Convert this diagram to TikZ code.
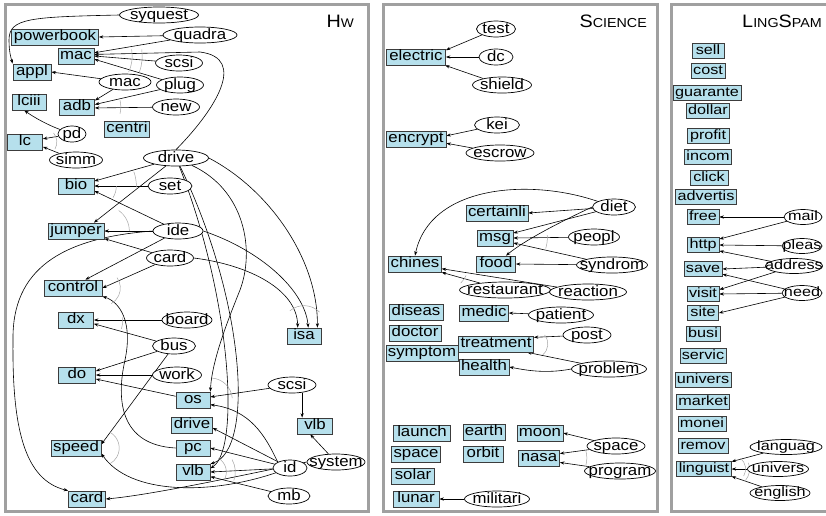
\documentclass[tikz,border=0pt]{standalone}
\usepackage{fontspec}
\setmainfont{Liberation Sans}[FakeStretch=1.12]
\newfontfamily\lsf{Liberation Sans}[FakeStretch=1.2]
\newfontfamily\ttlf{Liberation Sans}[FakeStretch=1.1]
\usetikzlibrary{shapes.geometric,arrows.meta}
\definecolor{boxblue}{RGB}{182,224,236}
\definecolor{boxline}{RGB}{60,60,60}
\definecolor{panel}{RGB}{160,160,160}
\definecolor{andgray}{RGB}{165,165,165}
\pgfdeclarelayer{bg}\pgfdeclarelayer{edges}\pgfsetlayers{bg,edges,main}
\newcommand\et[1]{\makebox[0pt]{\raisebox{-0.27em}[0pt][0pt]{#1}}}
\newcommand\andarc[4]{\draw[andarc] (#1) ++(#2:#4) arc[start angle=#2, end angle=#3, radius=#4];}
\begin{document}
\begin{tikzpicture}[x=1pt,y=-1pt,
  box/.style={draw=boxline, fill=boxblue, line width=0.7pt, inner xsep=2pt, inner ysep=0pt,
    minimum height=16pt, text height=11pt, text depth=3.4pt, font=\fontsize{15}{16}\selectfont},
  lbox/.style={box, minimum height=14.5pt, text height=10pt, text depth=3pt, font=\lsf\fontsize{13.5}{14}\selectfont},
  ell/.style={draw, ellipse, fill=white, line width=0.7pt, inner sep=0pt, minimum height=16pt,
    font=\fontsize{15}{16}\selectfont},
  lell/.style={ell, minimum height=15pt, font=\lsf\fontsize{13.5}{14}\selectfont},
  w/.style={minimum width=#1pt},
  e/.style={-{Stealth[length=4.5pt,width=3.2pt]}, line width=0.6pt},
  andarc/.style={andgray, line width=0.5pt},
  pan/.style={draw=panel, line width=3pt}]
\useasboundingbox (0,0) rectangle (826,515);
\begin{pgfonlayer}{bg}
\draw[pan] (5,4) rectangle (368,511);
\draw[pan] (383,4) rectangle (657,511);
\draw[pan] (671,4) rectangle (850,511);
\end{pgfonlayer}
% titles
\node[anchor=base east, inner sep=0pt] (thw) at (354,27) {\ttlf\fontsize{18}{18}\selectfont H\fontsize{12.5}{13}\selectfont W};
\node[anchor=base east, inner sep=0pt] (tsci) at (647,27) {\ttlf\fontsize{18}{18}\selectfont S\fontsize{13}{13}\selectfont CIENCE};
\node[anchor=base east, inner sep=0pt] (tls) at (822,27) {\ttlf\fontsize{18}{18}\selectfont L\fontsize{13}{13}\selectfont ING\fontsize{18}{18}\selectfont S\fontsize{13}{13}\selectfont PAM};
% ---------------- Hw boxes
\node[box,w=87] (hpb) at (55,37) {powerbook};
\node[box,w=35] (hmac) at (76,56) {mac};
\node[box,w=38] (happl) at (32,72) {appl};
\node[box,w=34] (hlciii) at (29,102) {lciii};
\node[box,w=35] (hadb) at (77,107) {adb};
\node[box,w=44] (hcentri) at (127,129) {centri};
\node[box,w=35] (hlc) at (25,142) {lc};
\node[box,w=36] (hbio) at (76,186) {bio};
\node[box,w=56] (hjump) at (76,231) {jumper};
\node[box,w=58] (hctrl) at (73,288) {control};
\node[box,w=35] (hdx) at (76,320) {dx};
\node[box,w=37] (hdo) at (77,375) {do};
\node[box,w=34] (hos) at (193,400) {os};
\node[box,w=40] (hdrvb) at (192,425) {drive};
\node[box,w=48] (hspeed) at (76,448) {speed};
\node[box,w=34] (hpc) at (193,448) {pc};
\node[box,w=34] (hvlb) at (193,472) {vlb};
\node[box,w=37] (hcardb) at (87,499) {card};
\node[box,w=34] (hisa) at (304,336) {isa};
\node[box,w=35] (hvlb2) at (315,426) {vlb};
% Hw ellipses
\node[ell,w=79] (hsyq) at (159,15) {\et{syquest}};
\node[ell,w=74] (hquad) at (200,35) {\et{quadra}};
\node[ell,w=47] (hscsi) at (179,63) {\et{scsi}};
\node[ell,w=52] (hmace) at (125,82) {\et{mac}};
\node[ell,w=47] (hplug) at (180,85) {\et{plug}};
\node[ell,w=47] (hnew) at (176,107) {\et{new}};
\node[ell,w=28] (hpd) at (72,134) {\et{pd}};
\node[ell,w=53] (hsimm) at (76,160) {\et{simm}};
\node[ell,w=65] (hdrv) at (176,158) {\et{drive}};
\node[ell,w=44] (hset) at (170,186) {\et{set}};
\node[ell,w=50] (hide) at (178,231) {\et{ide}};
\node[ell,w=47] (hcarde) at (170,258) {\et{card}};
\node[ell,w=50] (hboard) at (187,320) {\et{board}};
\node[ell,w=43] (hbus) at (174,346) {\et{bus}};
\node[ell,w=49] (hwork) at (177,375) {\et{work}};
\node[ell,w=48] (hscsi2) at (292,385) {\et{scsi}};
\node[ell,w=34] (hid) at (290,468) {\et{id}};
\node[ell,w=58] (hsys) at (336,462) {\et{system}};
\node[ell,w=42] (hmb) at (289,496) {\et{mb}};
% ---------------- Science boxes
\node[box,w=59] (selec) at (416,57) {electric};
\node[box,w=60] (senc) at (416,139) {encrypt};
\node[box,w=60] (scert) at (497,213) {certainli};
\node[box,w=36] (smsg) at (495,238) {msg};
\node[box,w=52] (schines) at (415,264) {chines};
\node[box,w=39] (sfood) at (496,264) {food};
\node[box,w=54] (sdiseas) at (416,312) {diseas};
\node[box,w=47] (smedic) at (484,313) {medic};
\node[box,w=52] (sdoctor) at (415,333) {doctor};
\node[box,w=74] (streat) at (496,344) {treatment};
\node[box,w=70] (ssympt) at (422,353) {symptom};
\node[box,w=49] (shealth) at (484,367) {health};
\node[box,w=57] (slaunch) at (422,433) {launch};
\node[box,w=42] (searth) at (484,432) {earth};
\node[box,w=46] (smoon) at (540,433) {moon};
\node[box,w=46] (sspaceb) at (416,454) {space};
\node[box,w=40] (sorbit) at (483,454) {orbit};
\node[box,w=41] (snasa) at (539,458) {nasa};
\node[box,w=43] (ssolar) at (413,476) {solar};
\node[box,w=46] (slunar) at (416,499) {lunar};
% Science ellipses
\node[ell,w=39] (stest) at (496,29) {\et{test}};
\node[ell,w=34] (sdc) at (496,57) {\et{dc}};
\node[ell,w=59] (sshield) at (502,85) {\et{shield}};
\node[ell,w=45] (skei) at (497,125) {\et{kei}};
\node[ell,w=68] (sescrow) at (500,153) {\et{escrow}};
\node[ell,w=43] (sdiet) at (614,207) {\et{diet}};
\node[ell,w=51] (speopl) at (594,237) {\et{peopl}};
\node[ell,w=71] (ssynd) at (612,265) {\et{syndrom}};
\node[ell,w=91] (srest) at (505,290) {\et{restaurant}};
\node[ell,w=77] (sreact) at (588,292) {\et{reaction}};
\node[ell,w=65] (spatient) at (561,315) {\et{patient}};
\node[ell,w=48] (spost) at (587,335) {\et{post}};
\node[ell,w=75] (sprob) at (609,369) {\et{problem}};
\node[ell,w=58] (sspace) at (616,446) {\et{space}};
\node[ell,w=71] (sprog) at (620,471) {\et{program}};
\node[ell,w=65] (smil) at (497,499) {\et{militari}};
% ---------------- LingSpam boxes
\node[lbox,w=32] (lsell) at (708,51) {sell};
\node[lbox,w=34] (lcost) at (708,71) {cost};
\node[lbox,w=61] (lguar) at (707,93) {guarante};
\node[lbox,w=42] (ldollar) at (708,111) {dollar};
\node[lbox,w=42] (lprofit) at (708,136) {profit};
\node[lbox,w=42] (lincom) at (708,157) {incom};
\node[lbox,w=38] (lclick) at (709,178) {click};
\node[lbox,w=58] (ladv) at (706,197) {advertis};
\node[lbox,w=31] (lfree) at (703,217) {free};
\node[lbox,w=32] (lhttp) at (703,245) {http};
\node[lbox,w=32] (lsave) at (703,269) {save};
\node[lbox,w=31] (lvisit) at (703,294) {visit};
\node[lbox,w=31] (lsite) at (703,313) {site};
\node[lbox,w=32] (lbusi) at (703,334) {busi};
\node[lbox,w=42] (lservic) at (703,356) {servic};
\node[lbox,w=52] (lunivb) at (703,380) {univers};
\node[lbox,w=51] (lmarket) at (703,402) {market};
\node[lbox,w=45] (lmonei) at (702,424) {monei};
\node[lbox,w=50] (lremov) at (703,446) {remov};
\node[lbox,w=52] (lling) at (704,469) {linguist};
% LingSpam ellipses
\node[lell,w=38] (lmail) at (803,217) {\et{mail}};
\node[lell,w=40] (lpleas) at (802,246) {\et{pleas}};
\node[lell,w=57] (laddr) at (794,266) {\et{address}};
\node[lell,w=40] (lneed) at (802,293) {\et{need}};
\node[lell,w=72] (llang) at (786,447) {\et{languag}};
\node[lell,w=61] (luniv) at (778,469) {\et{univers}};
\node[lell,w=60] (leng) at (780,493) {\et{english}};
% ---------------- edges
\begin{pgfonlayer}{edges}
% Hw
\draw[e] (hsyq.west) .. controls (30,17) and (9,18) .. (9,40) .. controls (9,52) and (11,58) .. (happl.north west);
\draw[e] (hquad) -- (hpb.east);
\draw[e] (hquad) -- (hmac.10);
\draw[e] (hscsi) -- (hmac.east);
\draw[e] (hplug) -- (hmac.-10);
\draw[e] (hdrv.north) .. controls (215,110) and (248,58) .. (200,52) -- (hmac.5);
\draw[e] (hmace) -- (happl.east);
\draw[e] (hmace) -- (hadb.20);
\draw[e] (hplug) -- (hadb.8);
\draw[e] (hnew) -- (hadb.-3);
\draw[e] (hpd) .. controls (48,125) and (35,118) .. (hlciii.-120);
\draw[e] (hpd) -- (hlc.10);
\draw[e] (hsimm) -- (hlc.-15);
\draw[e] (hdrv) -- (hbio.15);
\draw[e] (hset) -- (hbio.east);
\draw[e] (hide) -- (hbio.-15);
\draw[e] (hdrv) -- (hjump.25);
\draw[e] (hide) -- (hjump.east);
\draw[e] (hcarde) -- (hjump.-15);
\draw[e] (hide) -- (hctrl.34);
\draw[e] (hcarde) -- (hctrl.east);
\draw[e] (hpc.west) .. controls (120,445) and (116,400) .. (125,360) .. controls (133,322) and (120,302) .. (hctrl.south east);
\draw[e] (hide.west) .. controls (60,238) and (12,270) .. (13,340) .. controls (12,430) and (25,480) .. (hcardb.north west);
\draw[e] (hboard) -- (hdx.east);
\draw[e] (hbus) -- (hdx.-12);
\draw[e] (hbus) -- (hdo.12);
\draw[e] (hwork) -- (hdo.east);
\draw[e] (hos) -- (hdo.-12);
\draw[e] (hbus) -- (hspeed.8);
\draw[e] (hdrv.east) .. controls (270,190) and (318,260) .. (hisa.32);
\draw[e] (hide.east) .. controls (260,250) and (305,290) .. (hisa.63);
\draw[e] (hcarde.east) .. controls (250,265) and (297,290) .. (hisa.127);
\draw[e] (hdrv) .. controls (245,190) and (255,250) .. (240,290) .. controls (228,320) and (212,360) .. (hos.north east);
\draw[e] (hdrv) .. controls (245,300) and (255,450) .. (hvlb.25);
\draw[e] (hdrv) .. controls (232,300) and (240,450) .. (hvlb.12);
\draw[e] (hid.north west) .. controls (265,435) and (250,410) .. (hos.-15);
\draw[e] (hscsi2) -- (hos.10);
\draw[e] (hscsi2.south -| hvlb2.147) -- (hvlb2.147);
\draw[e] (hsys) -- (hvlb2.-120);
\draw[e] (hid) -- (hdrvb.-8);
\draw[e] (hid) -- (hpc.east);
\draw[e] (hid) -- (hvlb.east);
\draw[e] (hmb) -- (hvlb.-15);
\draw[e] (hsys.west) .. controls (230,478) and (150,495) .. (hcardb.east);
\draw[e] (hid) .. controls (210,495) and (130,495) .. (hspeed.-12);
% Science
\draw[e] (stest) -- (selec.13);
\draw[e] (sdc) -- (selec.east);
\draw[e] (sshield) -- (selec.-16);
\draw[e] (skei) -- (senc.6);
\draw[e] (sescrow) -- (senc.-8);
\draw[e] (sdiet) -- (scert.east);
\draw[e] (sdiet) -- (smsg.15);
\draw[e] (sdiet.west) .. controls (560,222) and (525,240) .. (sfood.40);
\draw[e] (sdiet) .. controls (530,178) and (430,185) .. (schines.north);
\draw[e] (speopl) -- (smsg.east);
\draw[e] (ssynd) -- (smsg.-15);
\draw[e] (ssynd) -- (sfood.east);
\draw[e] (srest) -- (schines.south east);
\draw[e] (sreact) -- (schines.-10);
\draw[e] (spatient) -- (smedic.east);
\draw[e] (spost) -- (streat.10);
\draw[e] (sprob) -- (streat.-15);
\draw[e] (sprob.west) .. controls (545,374) and (525,370) .. (shealth.east);
\draw[e] (sspace) -- (smoon.east);
\draw[e] (sspace) -- (snasa.12);
\draw[e] (sprog) -- (snasa.-12);
\draw[e] (smil) -- (slunar.east);
% LingSpam
\draw[e] (lmail) -- (lfree.east);
\draw[e] (lmail) -- (lhttp.20);
\draw[e] (lpleas) -- (lhttp.east);
\draw[e] (laddr) -- (lhttp.-20);
\draw[e] (laddr) -- (lsave.east);
\draw[e] (laddr) -- (lvisit.15);
\draw[e] (lneed) -- (lsave.-15);
\draw[e] (lneed) -- (lvisit.east);
\draw[e] (lneed) -- (lsite.east);
\draw[e] (llang) -- (lling.15);
\draw[e] (luniv) -- (lling.east);
\draw[e] (leng) -- (lling.-15);
% gray conjunction arcs
\andarc{hmac.east}{-10}{25}{38}
\andarc{hmac.east}{-8}{20}{48}
\andarc{hadb.east}{-15}{15}{26}
\andarc{hlc.east}{-40}{30}{14}
\andarc{hbio.east}{-20}{2}{42}
\andarc{hbio.east}{0}{32}{22}
\andarc{hjump.east}{-55}{0}{25}
\andarc{hctrl.east}{-35}{60}{18}
\andarc{hdx.east}{-5}{18}{29}
\andarc{hspeed.east}{-60}{60}{18}
\andarc{hvlb.east}{-60}{30}{16}
\andarc{hvlb.east}{-30}{20}{25}
\andarc{hos.east}{-85}{-5}{22}
\andarc{hisa.north}{-130}{-45}{22}
\andarc{smsg.east}{-5}{18}{34}
\andarc{schines.east}{25}{45}{27}
\andarc{streat.east}{-40}{50}{14}
\andarc{snasa.east}{-15}{15}{27}
\andarc{lling.east}{-50}{30}{14}
\andarc{lling.east}{-20}{40}{18}
\end{pgfonlayer}
\end{tikzpicture}
\end{document}
